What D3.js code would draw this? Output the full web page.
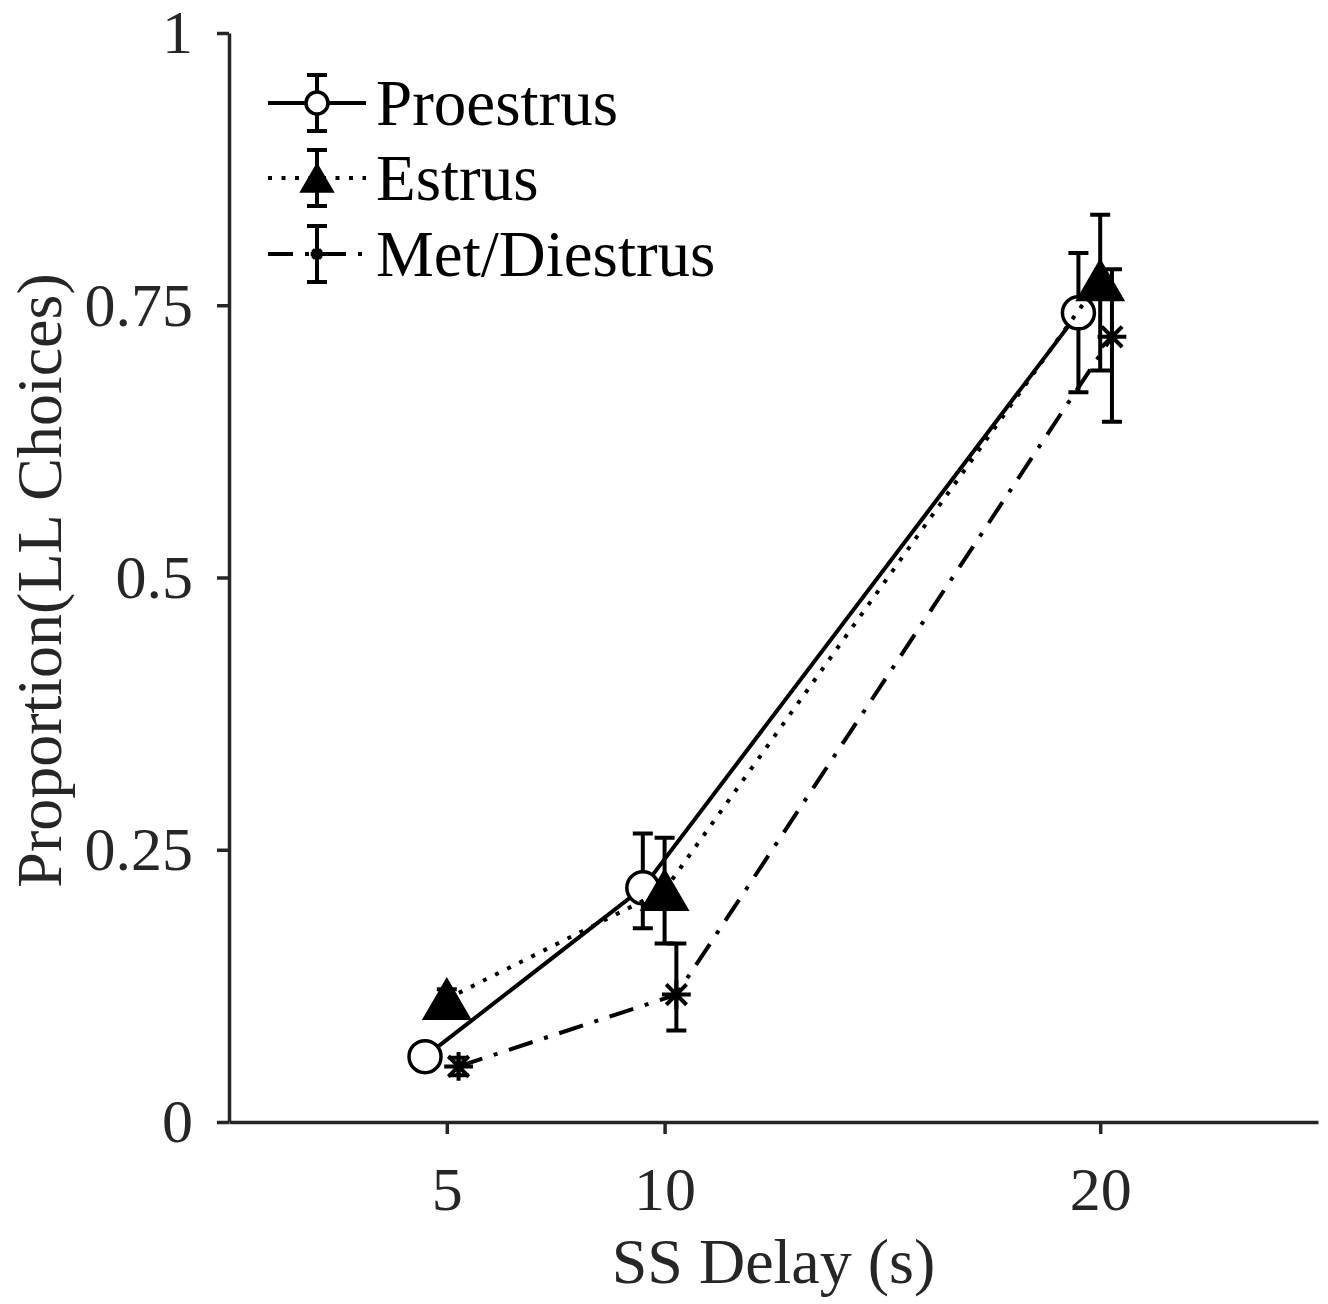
<!DOCTYPE html>
<html>
<head>
<meta charset="utf-8">
<script src="https://cdn.jsdelivr.net/npm/d3@7"></script>
<style>
  body { margin: 0; background: #fff; }
  text { font-family: "Liberation Serif", "Times New Roman", serif; }
</style>
</head>
<body>
<div id="chart"></div>
<script>
// delays on the x axis and the three cycle groups
const delays = [5, 10, 20];
const groups = ["Proestrus", "Estrus", "Met/Diestrus"];
const jitter = [-0.5, 0, 0.27]; // horizontal offset of each group, in seconds

// mean proportion of LL choices and error bar ends, per delay
const proestrusMean = [0.060, 0.215, 0.743];
const proestrusLow = [0.053, 0.178, 0.670];
const proestrusHigh = [0.067, 0.265, 0.798];

const estrusMean = [0.113, 0.213, 0.773];
const estrusLow = [0.104, 0.164, 0.690];
const estrusHigh = [0.122, 0.261, 0.833];

const metMean = [0.051, 0.117, 0.721];
const metLow = [0.043, 0.084, 0.643];
const metHigh = [0.059, 0.164, 0.783];

const yTicks = [0, 0.25, 0.5, 0.75, 1];
const yTickLabels = ["0", "0.25", "0.5", "0.75", "1"];

function init() {
    const width = 1328;
    const height = 1304;
    const margin = { top: 33, left: 229, right: 10, bottom: 182 };
    const axisColor = "#262626";
    const lw = 4;

    const svg = d3.select("#chart")
        .append("svg")
        .attr("width", width)
        .attr("height", height);

    const x = d3.scaleLinear().domain([0, 25]).range([margin.left, width - margin.right]);
    const y = d3.scaleLinear().domain([0, 1]).range([height - margin.bottom, margin.top]);

    // axes
    const xAxis = svg.append("g")
        .attr("transform", `translate(0,${y(0)})`)
        .call(d3.axisBottom(x).tickValues(delays).tickSize(12).tickPadding(32).tickSizeOuter(0));
    const yAxis = svg.append("g")
        .attr("transform", `translate(${x(0)},0)`)
        .call(d3.axisLeft(y).tickValues(yTicks).tickFormat((d, i) => yTickLabels[i])
            .tickSize(12).tickPadding(24).tickSizeOuter(0));

    [xAxis, yAxis].forEach(a => {
        a.select(".domain").attr("stroke", axisColor).attr("stroke-width", 3.5);
        a.selectAll(".tick line").attr("stroke", axisColor).attr("stroke-width", 3.5);
        a.selectAll(".tick text").attr("fill", axisColor).attr("font-size", 62)
            .attr("font-family", "Liberation Serif");
    });

    svg.append("text")
        .attr("x", (x(0) + x(25)) / 2)
        .attr("y", 1283)
        .attr("text-anchor", "middle")
        .attr("font-size", 64)
        .attr("fill", axisColor)
        .text("SS Delay (s)");

    svg.append("text")
        .attr("transform", `translate(61,${y(0.5) + 3}) rotate(-90)`)
        .attr("text-anchor", "middle")
        .attr("font-size", 64)
        .attr("fill", axisColor)
        .text("Proportion(LL Choices)");

    // series definitions
    const series = [
        { name: groups[0], mean: proestrusMean, low: proestrusLow, high: proestrusHigh, off: jitter[0], marker: "circle", dash: null },
        { name: groups[1], mean: estrusMean, low: estrusLow, high: estrusHigh, off: jitter[1], marker: "triangle", dash: "4,9.5" },
        { name: groups[2], mean: metMean, low: metLow, high: metHigh, off: jitter[2], marker: "star", dash: "25,12,4,12" }
    ];

    const line = d3.line().x(d => x(d.x)).y(d => y(d.m));

    function drawMarker(g, type, size) {
        if (type === "circle") {
            g.append("circle").attr("r", size / 2)
                .attr("fill", "#fff").attr("stroke", "#000").attr("stroke-width", 3.5);
        } else if (type === "triangle") {
            const w = size * 1.45, h = size * 1.25;
            g.append("path")
                .attr("d", `M0,${-h / 2}L${w / 2},${h / 2}L${-w / 2},${h / 2}Z`)
                .attr("fill", "#000").attr("stroke", "#000").attr("stroke-width", 2);
        } else {
            const r = size * 0.45;
            const d = r * Math.SQRT1_2;
            g.append("path")
                .attr("d", `M${-r},0L${r},0M0,${-r}L0,${r}M${-d},${-d}L${d},${d}M${-d},${d}L${d},${-d}`)
                .attr("stroke", "#000").attr("stroke-width", 4).attr("fill", "none");
        }
    }

    const cap = 10;
    series.forEach(s => {
        const pts = delays.map((dl, i) => ({ x: dl + s.off, m: s.mean[i], lo: s.low[i], hi: s.high[i] }));
        const g = svg.append("g").attr("class", "series");

        g.append("path")
            .datum(pts)
            .attr("d", line)
            .attr("fill", "none")
            .attr("stroke", "#000")
            .attr("stroke-width", lw)
            .attr("stroke-dasharray", s.dash);

        g.selectAll(".err").data(pts).enter().append("path")
            .attr("class", "err")
            .attr("d", d => {
                const px = x(d.x);
                return `M${px},${y(d.lo)}L${px},${y(d.hi)}M${px - cap},${y(d.lo)}L${px + cap},${y(d.lo)}M${px - cap},${y(d.hi)}L${px + cap},${y(d.hi)}`;
            })
            .attr("stroke", "#000")
            .attr("stroke-width", lw)
            .attr("fill", "none");

        g.selectAll(".mark").data(pts).enter().append("g")
            .attr("class", "mark")
            .attr("transform", d => `translate(${x(d.x)},${y(d.m)})`)
            .each(function () { drawMarker(d3.select(this), s.marker, 32); });
    });

    // legend
    const legendRows = [103, 178, 254];
    series.forEach((s, i) => {
        const ly = legendRows[i];
        const g = svg.append("g").attr("transform", `translate(0,${ly})`);
        g.append("line")
            .attr("x1", 268).attr("x2", 366).attr("y1", 0).attr("y2", 0)
            .attr("stroke", "#000").attr("stroke-width", lw)
            .attr("stroke-dasharray", s.dash);
        g.append("path")
            .attr("d", `M317,-28L317,28M307,-28L327,-28M307,28L327,28`)
            .attr("stroke", "#000").attr("stroke-width", lw).attr("fill", "none");
        const m = g.append("g").attr("transform", "translate(317,0)");
        drawMarker(m, s.marker, s.marker === "star" ? 14 : 22);
        g.append("text")
            .attr("x", 376)
            .attr("y", 22)
            .attr("font-size", 65)
            .attr("fill", "#000")
            .text(s.name);
    });
}

window.onload = init;
</script>
</body>
</html>
